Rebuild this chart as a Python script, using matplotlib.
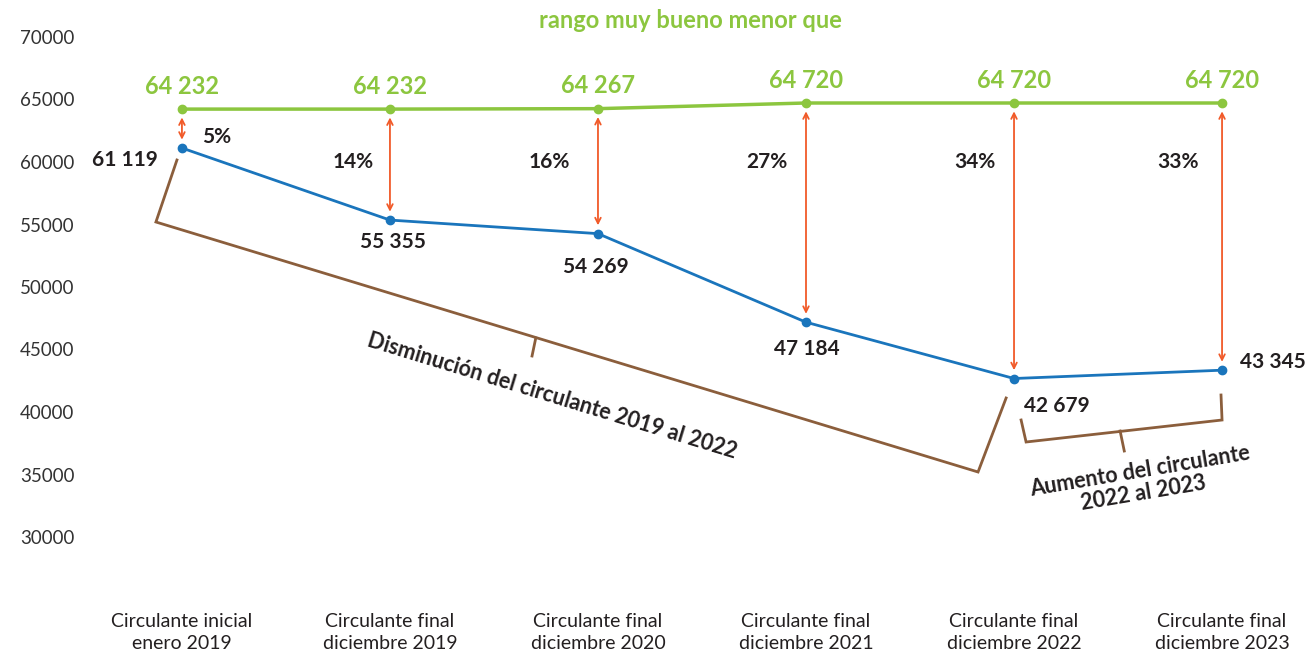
import matplotlib.pyplot as plt

plt.rcParams['font.family'] = ['Lato', 'DejaVu Sans']

# data
categorias = ["Circulante inicial\nenero 2019", "Circulante final\ndiciembre 2019",
              "Circulante final\ndiciembre 2020", "Circulante final\ndiciembre 2021",
              "Circulante final\ndiciembre 2022", "Circulante final\ndiciembre 2023"]
circulante = [61119, 55355, 54269, 47184, 42679, 43345]
rango = [64232, 64232, 64267, 64720, 64720, 64720]
porcentajes = ["5%", "14%", "16%", "27%", "34%", "33%"]

verde = "#8cc63f"
azul = "#1a75bc"
naranja = "#f15a29"
cafe = "#8b5e3c"
negro = "#231f20"

fig = plt.figure(figsize=(13.09, 6.56), dpi=100)
ax = fig.add_axes([80 / 1309, 119 / 656, 1229 / 1309, 500 / 656])

x = list(range(len(categorias)))

ax.plot(x, rango, color=verde, lw=2.5, marker="o", ms=6, clip_on=False, zorder=3)
ax.plot(x, circulante, color=azul, lw=2, marker="o", ms=6, clip_on=False, zorder=3)

ax.set_xlim(-0.49, 5.418)
ax.set_ylim(30000, 70000)
ax.set_yticks(range(30000, 70001, 5000))
ax.set_yticklabels([str(v) for v in range(30000, 70001, 5000)], fontsize=13.5, color="#333333")
ax.set_xticks(x)
ax.set_xticklabels(categorias, fontsize=14, color=negro, linespacing=1.3)
ax.tick_params(axis="both", length=0)
ax.tick_params(axis="x", pad=55)
ax.tick_params(axis="y", pad=4)
for s in ax.spines.values():
    s.set_visible(False)

fig.text(690 / 1309, 1 - 20 / 656, "rango muy bueno menor que", color=verde,
         fontsize=17, fontweight="bold", ha="center", va="center")


def fmt(v):
    return f"{v:,}".replace(",", " ")


# green labels
for i, v in enumerate(rango):
    ax.annotate(fmt(v), (i, v), xytext=(0, 23), textcoords="offset pixels",
                ha="center", va="center", color=verde, fontsize=17, fontweight="bold")

# arrows between lines
for i in x:
    ax.annotate("", xy=(i, circulante[i]), xytext=(i, rango[i]),
                arrowprops=dict(arrowstyle="<->", color=naranja, lw=1.3,
                                shrinkA=6, shrinkB=6, mutation_scale=10))

# blue labels
offsets = [(-57, -12), (3, -22), (-2, -33), (1, -27), (43, -27), (51, 8)]
for i, v in enumerate(circulante):
    ax.annotate(fmt(v), (i, v), xytext=offsets[i], textcoords="offset pixels",
                ha="center", va="center", color=negro, fontsize=15, fontweight="bold")

# percent labels
pct_off = [(35, 11), (-37, 0), (-49, 0), (-39, 0), (-39, 0), (-44, 0)]
for i, p in enumerate(porcentajes):
    anchor_y = circulante[i] if i == 0 else 60000
    ax.annotate(p, (i, anchor_y), xytext=pct_off[i], textcoords="offset pixels",
                ha="center", va="center", color=negro, fontsize=15, fontweight="bold")

# bracket 2019 -> 2022
b1x = [-0.024, -0.125, 3.827, 3.962]
b1y = [60160, 55200, 35200, 41120]
ax.plot(b1x, b1y, color=cafe, lw=2, solid_joinstyle="miter", clip_on=False)
ax.plot([1.701, 1.683], [45920, 44480], color=cafe, lw=2)
ax.text(1.779, 41300, "Disminución del circulante 2019 al 2022", rotation=-17,
        ha="center", va="center", color=negro, fontsize=15.5, fontweight="bold",
        rotation_mode="anchor")

# bracket 2022 -> 2023
b2x = [4.034, 4.058, 5.0, 4.995]
b2y = [39360, 37600, 39360, 41360]
ax.plot(b2x, b2y, color=cafe, lw=2, solid_joinstyle="miter")
ax.plot([4.51, 4.53], [38480, 36880], color=cafe, lw=2)
ax.text(4.615, 34400, "Aumento del circulante\n2022 al 2023", rotation=9.5,
        ha="center", va="center", color=negro, fontsize=15.5, fontweight="bold",
        rotation_mode="anchor", multialignment="center", linespacing=1.05)

plt.savefig("out.png", dpi=100)
